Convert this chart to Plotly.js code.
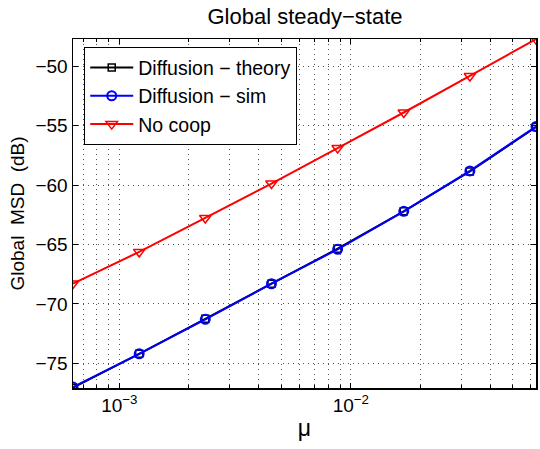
<!DOCTYPE html>
<html><head><meta charset="utf-8">
<script src="https://cdn.plot.ly/plotly-3.0.1.min.js"></script>
<style>html,body{margin:0;padding:0;background:#fff}#c{width:540px;height:449px}</style>
</head><body><div id="c"></div>
<script>
const mu = [0.00063096, 0.0012186, 0.0023522, 0.0045427, 0.0087720, 0.016935, 0.032691, 0.063096];
const theory = [-77.05, -74.2, -71.25, -68.3, -65.35, -62.2, -58.85, -55.1];
const sim = [-77.0, -74.2, -71.3, -68.3, -65.4, -62.2, -58.8, -55.06];
const nocoop = [-68.28, -65.62, -62.76, -59.86, -56.87, -53.88, -50.80, -47.70];
const names = ["Diffusion \u2212 theory", "Diffusion \u2212 sim", "No coop"];
const yTicks = [-75, -70, -65, -60, -55, -50];
const xMajor = [0.001, 0.01];
const xMajorText = ["10<sup>\u22123</sup>", "10<sup>\u22122</sup>"];

const xMinor = [];
for (const d of [-4, -3, -2, -1]) {
  for (let m = 2; m <= 9; m++) {
    const v = m * Math.pow(10, d);
    if (v >= 0.00063 && v <= 0.0632) xMinor.push(v);
  }
}

const font = {family: "Liberation Sans, Arial, sans-serif", color: "#000"};
const traces = [
  {x: mu, y: theory, name: names[0], mode: "lines+markers",
   line: {color: "#000", width: 2}, marker: {symbol: "square-open", size: 7, color: "#000", line: {width: 1.5}}},
  {x: mu, y: sim, name: names[1], mode: "lines+markers",
   line: {color: "#0000ff", width: 2}, marker: {symbol: "circle-open", size: 9, color: "#0000ff", line: {width: 2}}},
  {x: mu, y: nocoop, name: names[2], mode: "lines+markers",
   line: {color: "#ff0000", width: 2}, marker: {symbol: "triangle-down-open", size: 10, color: "#ff0000", line: {width: 1.5}}}
];
const gridStyle = {showgrid: true, gridcolor: "#555", griddash: "1px,4px", gridwidth: 1};
const layout = {
  width: 540, height: 449,
  margin: {l: 73, r: 4, t: 39, b: 61},
  paper_bgcolor: "#fff", plot_bgcolor: "#fff",
  font: Object.assign({size: 19}, font),
  title: {text: "Global steady\u2212state", x: 305/540, xanchor: "center", y: 1 - 16/449, yanchor: "middle", font: Object.assign({size: 22}, font)},
  showlegend: true,
  legend: {x: 0.0238, y: 0.977, yanchor: "top", xanchor: "left",
    bordercolor: "#000", borderwidth: 1.2, bgcolor: "#fff",
    font: Object.assign({size: 19.5}, font), tracegroupgap: 0, itemwidth: 43},
  xaxis: Object.assign({type: "log", range: [-3.2, -1.2], tickmode: "array", tickvals: xMajor, ticktext: xMajorText, tickangle: 0,
    ticks: "inside", ticklen: 5, tickcolor: "#000", showline: true, linecolor: "#000", linewidth: 1.5, mirror: "ticks",
    zeroline: false, automargin: false,
    minor: Object.assign({tickmode: "array", tickvals: xMinor, ticks: "inside", ticklen: 3, tickcolor: "#000"}, gridStyle),
    tickfont: Object.assign({size: 19}, font),
    title: {text: "\u03bc", font: Object.assign({size: 23}, font), standoff: 4}}, gridStyle),
  yaxis: Object.assign({range: [-77.08, -47.69], tickvals: yTicks,
    ticks: "inside", ticklen: 5, tickcolor: "#000", showline: true, linecolor: "#000", linewidth: 1.5, mirror: "ticks",
    zeroline: false, automargin: false,
    tickfont: Object.assign({size: 19}, font),
    title: {text: "Global&nbsp;&nbsp;MSD&nbsp;&nbsp;(dB)", font: Object.assign({size: 19}, font), standoff: 6}}, gridStyle)
};
Plotly.newPlot("c", traces, layout, {displayModeBar: false, staticPlot: true});
</script></body></html>
